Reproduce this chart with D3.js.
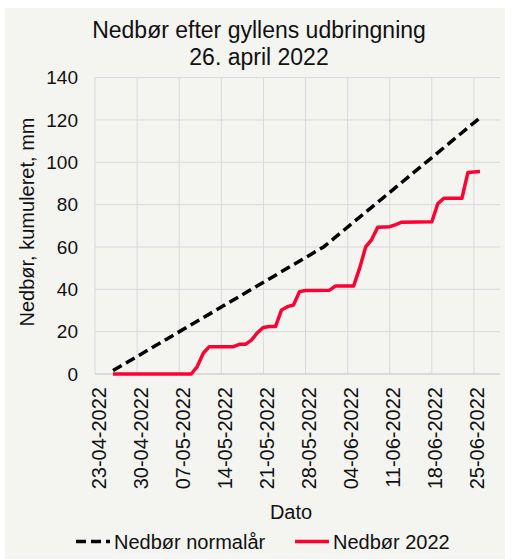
<!DOCTYPE html>
<html>
<head>
<meta charset="utf-8">
<script src="https://cdn.jsdelivr.net/npm/d3@7"></script>
<style>
  body { margin: 0; background: #fff; }
  text { font-family: "Liberation Sans", Arial, sans-serif; fill: #111; }
</style>
</head>
<body>
<div id="chart"></div>
<script>
// data
const titleLines = ["Nedbør efter gyllens udbringning", "26. april 2022"];
const yTicks = [0, 20, 40, 60, 80, 100, 120, 140];
const xTickLabels = ["23-04-2022", "30-04-2022", "07-05-2022", "14-05-2022", "21-05-2022",
                     "28-05-2022", "04-06-2022", "11-06-2022", "18-06-2022", "25-06-2022"];

// normal year, cumulative (kinks only)
const normalDates = ["26-04-2022", "31-05-2022", "26-06-2022"];
const normalValues = [1.6, 60, 121];

// 2022, cumulative
const rainDates = ["26-04-2022", "09-05-2022", "10-05-2022", "11-05-2022", "12-05-2022",
                   "16-05-2022", "17-05-2022", "18-05-2022", "19-05-2022", "20-05-2022",
                   "21-05-2022", "22-05-2022", "23-05-2022", "24-05-2022", "25-05-2022",
                   "26-05-2022", "27-05-2022", "28-05-2022", "01-06-2022", "02-06-2022",
                   "05-06-2022", "06-06-2022", "07-06-2022", "08-06-2022", "09-06-2022",
                   "11-06-2022", "12-06-2022", "13-06-2022", "18-06-2022", "19-06-2022",
                   "20-06-2022", "23-06-2022", "24-06-2022", "26-06-2022"];
const rainValues = [0, 0, 3.5, 9.8, 12.9,
                    12.9, 14.0, 14.0, 16.0, 19.5,
                    22.0, 22.4, 22.4, 30.2, 31.8,
                    32.6, 38.9, 39.4, 39.6, 41.6,
                    41.6, 50.0, 60.0, 63.5, 69.3,
                    69.6, 70.6, 71.7, 71.9, 80.5,
                    83.0, 83.0, 95.2, 95.6];

const seriesNames = ["Nedbør normalår", "Nedbør 2022"];

const parse = d3.timeParse("%d-%m-%Y");
const normal = normalDates.map((d, i) => ({date: parse(d), value: normalValues[i]}));
const rain = rainDates.map((d, i) => ({date: parse(d), value: rainValues[i]}));

const W = 511, H = 560;
const plot = {left: 95, right: 500, top: 77.6, bottom: 374};
const red = "#ff0033";

const svg = d3.select("#chart").append("svg")
    .attr("width", W)
    .attr("height", H);

// chart area background
svg.append("rect")
    .attr("x", 5).attr("y", 8)
    .attr("width", 500).attr("height", 551)
    .attr("fill", "#f4f4f0");

// scales
const x = d3.scaleTime()
    .domain([parse("23-04-2022"), new Date(2022, 5, 29, 8)])
    .range([plot.left, plot.right]);

const y = d3.scaleLinear()
    .domain([0, 140])
    .range([plot.bottom, plot.top]);

const xTicks = xTickLabels.map(parse);

// gridlines
svg.append("g").selectAll("line")
    .data(yTicks.slice(1))
    .enter().append("line")
    .attr("x1", plot.left).attr("x2", plot.right)
    .attr("y1", d => y(d)).attr("y2", d => y(d))
    .attr("stroke", "#d9d9d9").attr("stroke-width", 1);

svg.append("g").selectAll("line")
    .data(xTicks)
    .enter().append("line")
    .attr("x1", d => x(d)).attr("x2", d => x(d))
    .attr("y1", plot.top).attr("y2", plot.bottom)
    .attr("stroke", "#d9d9d9").attr("stroke-width", 1);

// y axis labels
const yAxis = svg.append("g")
    .attr("transform", `translate(${plot.left},0)`)
    .call(d3.axisLeft(y).tickValues(yTicks).tickSize(0).tickPadding(17));
yAxis.select(".domain").remove();
yAxis.selectAll("text").style("font-size", "19px").attr("fill", "#111");

// x axis with rotated date labels
const xAxis = svg.append("g")
    .attr("transform", `translate(0,${plot.bottom})`)
    .call(d3.axisBottom(x).tickValues(xTicks).tickSize(0).tickFormat(d3.timeFormat("%d-%m-%Y")));
xAxis.select(".domain").attr("stroke", "#bfbfbf").attr("d", `M${plot.left},0H${plot.right}`);
xAxis.selectAll("text")
    .style("font-size", "20px")
    .attr("fill", "#111")
    .attr("text-anchor", "end")
    .attr("transform", "rotate(-90)")
    .attr("x", -13)
    .attr("y", 3)
    .attr("dy", "0.35em");

// lines
const line = d3.line()
    .x(d => x(d.date))
    .y(d => y(d.value));

svg.append("path")
    .datum(normal)
    .attr("d", line)
    .attr("fill", "none")
    .attr("stroke", "#000")
    .attr("stroke-width", 3.5)
    .attr("stroke-dasharray", "10,5");

svg.append("path")
    .datum(rain)
    .attr("d", line)
    .attr("fill", "none")
    .attr("stroke", red)
    .attr("stroke-width", 3.5)
    .attr("stroke-linejoin", "round");

// titles
svg.append("text")
    .attr("x", 259).attr("y", 38)
    .attr("text-anchor", "middle")
    .style("font-size", "23px")
    .selectAll("tspan")
    .data(titleLines)
    .enter().append("tspan")
    .attr("x", 259)
    .attr("dy", (d, i) => i ? 27 : 0)
    .text(d => d);

svg.append("text")
    .attr("transform", "translate(34,222) rotate(-90)")
    .attr("text-anchor", "middle")
    .style("font-size", "20px")
    .text("Nedbør, kumuleret, mm");

svg.append("text")
    .attr("x", 291).attr("y", 519)
    .attr("text-anchor", "middle")
    .style("font-size", "20px")
    .text("Dato");

// legend
const legend = [
    {name: seriesNames[0], x0: 76, color: "#000", dash: "10,5"},
    {name: seriesNames[1], x0: 295, color: red, dash: null}
];
legend.forEach(l => {
    svg.append("line")
        .attr("x1", l.x0).attr("x2", l.x0 + 34)
        .attr("y1", 541.5).attr("y2", 541.5)
        .attr("stroke", l.color)
        .attr("stroke-width", 3.5)
        .attr("stroke-dasharray", l.dash);
    svg.append("text")
        .attr("x", l.x0 + 38).attr("y", 548.5)
        .style("font-size", "20px")
        .text(l.name);
});
</script>
</body>
</html>
